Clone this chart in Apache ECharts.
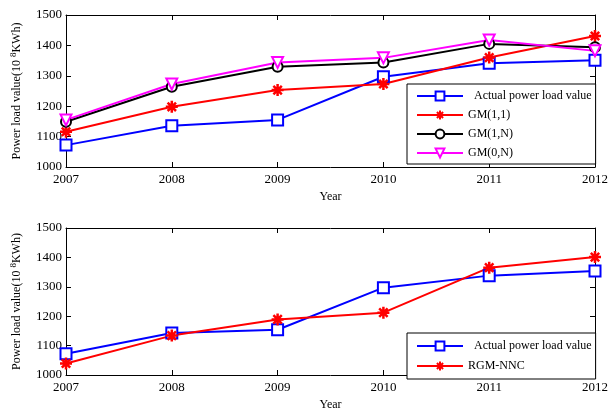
<!DOCTYPE html>
<html>
<head>
<meta charset="utf-8">
<script src="https://cdn.jsdelivr.net/npm/echarts@6/dist/echarts.min.js"></script>
<style>
  html, body { margin: 0; padding: 0; background: #fff; }
  #chart { width: 611px; height: 412px; }
</style>
</head>
<body>
<div id="chart"></div>
<script>
const years = ['2007', '2008', '2009', '2010', '2011', '2012'];
const yTicks = [1000, 1100, 1200, 1300, 1400, 1500];

// top panel
const actualTop = [1072, 1136, 1155, 1297, 1341, 1351];
const gm11 = [1116, 1198, 1253, 1273, 1360, 1431];
const gm1N = [1149, 1264, 1330, 1344, 1405, 1394];
const gm0N = [1155, 1273, 1344, 1359, 1418, 1382];

// bottom panel
const actualBottom = [1072, 1143, 1154, 1297, 1338, 1354];
const rgmNnc = [1039, 1134, 1189, 1212, 1365, 1401];

const font = 'Liberation Serif';
const star = 'path://M0,-10L0,10M-10,0L10,0M-7,-7L7,7M-7,7L7,-7';

const chart = echarts.init(document.getElementById('chart'));

function xAxisFor(gridIndex, withName) {
  return {
    type: 'category',
    gridIndex: gridIndex,
    data: years,
    boundaryGap: false,
    name: withName ? 'Year' : '',
    nameLocation: 'middle',
    nameGap: 24,
    nameTextStyle: { fontFamily: font, fontSize: 12, color: '#000' },
    axisLine: { lineStyle: { color: '#000', width: 1 } },
    axisTick: { inside: true, length: 5, lineStyle: { color: '#000' } },
    axisLabel: { fontFamily: font, fontSize: 13, color: '#000', margin: 6 },
    splitLine: { show: false }
  };
}
function xTopFor(gridIndex) {
  return {
    type: 'category', gridIndex: gridIndex, data: years, boundaryGap: false,
    position: 'top',
    axisLine: { lineStyle: { color: '#000', width: 1 } },
    axisTick: { inside: true, length: 5, lineStyle: { color: '#000' } },
    axisLabel: { show: false }, splitLine: { show: false }
  };
}
function yAxisFor(gridIndex) {
  return {
    type: 'value', gridIndex: gridIndex, min: yTicks[0], max: yTicks[yTicks.length - 1], interval: 100,
    name: '{a|Power load value(10 }{s|8}{a|KWh)}',
    nameLocation: 'middle',
    nameRotate: 90,
    nameGap: 42,
    nameTextStyle: {
      rich: {
        a: { fontFamily: font, fontSize: 12, color: '#000' },
        s: { fontFamily: font, fontSize: 9, color: '#000', verticalAlign: 'top', padding: [0, 0, 6, 0] }
      }
    },
    axisLine: { show: true, lineStyle: { color: '#000', width: 1 } },
    axisTick: { show: true, inside: true, length: 5, lineStyle: { color: '#000' } },
    axisLabel: { fontFamily: font, fontSize: 13, color: '#000', margin: 4, formatter: v => String(v) },
    splitLine: { show: false }
  };
}
function yRightFor(gridIndex) {
  return {
    type: 'value', gridIndex: gridIndex, min: yTicks[0], max: yTicks[yTicks.length - 1], interval: 100,
    position: 'right',
    axisLine: { show: true, lineStyle: { color: '#000', width: 1 } },
    axisTick: { show: true, inside: true, length: 5, lineStyle: { color: '#000' } },
    axisLabel: { show: false }, splitLine: { show: false }
  };
}

function lineSeries(name, data, color, symbol, xi, yi, extra) {
  return Object.assign({
    name: name,
    type: 'line',
    data: data,
    xAxisIndex: xi,
    yAxisIndex: yi,
    symbol: symbol,
    symbolSize: 11,
    showAllSymbol: true,
    lineStyle: { color: color, width: 2 },
    itemStyle: { color: color, borderColor: color, borderWidth: 2 },
    emphasis: { disabled: true },
    animation: false
  }, extra || {});
}

const starStyle = { symbolSize: 12, itemStyle: { color: '#ff0000', borderColor: '#ff0000', borderWidth: 2.5 } };

const legendCommon = {
  orient: 'vertical',
  itemWidth: 46,
  itemHeight: 11,
  itemGap: 7,
  borderColor: '#000',
  borderWidth: 1,
  padding: [6, 4, 5, 9],
  backgroundColor: '#fff',
  formatter: name => name.indexOf('Actual') === 0 ? '  ' + name.trim() : name,
  textStyle: { fontFamily: font, fontSize: 12, lineHeight: 12, color: '#000' }
};

chart.setOption({
  backgroundColor: '#fff',
  animation: false,
  grid: [
    { left: 66, right: 12, top: 15, height: 152 },
    { left: 66, right: 12, top: 228, height: 153 }
  ],
  xAxis: [xAxisFor(0, true), xAxisFor(1, true), xTopFor(0), xTopFor(1)],
  yAxis: [yAxisFor(0), yAxisFor(1), yRightFor(0), yRightFor(1)],
  legend: [
    Object.assign({}, legendCommon, {
      left: 407, top: 84,
      data: ['Actual power load value', 'GM(1,1)', 'GM(1,N)', 'GM(0,N)']
    }),
    Object.assign({}, legendCommon, {
      left: 407, top: 333, itemGap: 8, padding: [7, 4, 7, 9],
      data: ['Actual power load value ', 'RGM-NNC']
    })
  ],
  series: [
    lineSeries('Actual power load value', actualTop, '#0000ff', 'emptyRect', 0, 0),
    lineSeries('GM(1,1)', gm11, '#ff0000', star, 0, 0, starStyle),
    lineSeries('GM(1,N)', gm1N, '#000000', 'emptyCircle', 0, 0, { symbolSize: 10 }),
    lineSeries('GM(0,N)', gm0N, '#ff00ff', 'emptyTriangle', 0, 0, { symbolRotate: 180 }),
    lineSeries('Actual power load value ', actualBottom, '#0000ff', 'emptyRect', 1, 1),
    lineSeries('RGM-NNC', rgmNnc, '#ff0000', star, 1, 1, starStyle)
  ]
});
</script>
</body>
</html>
